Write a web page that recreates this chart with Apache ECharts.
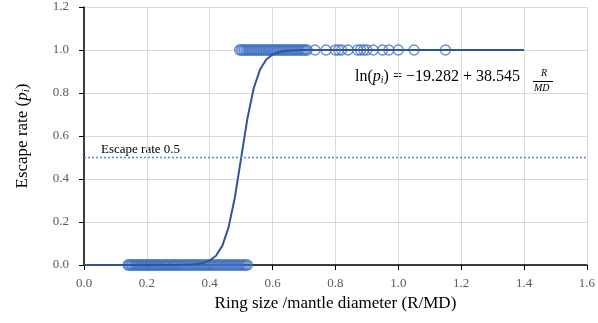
<!DOCTYPE html>
<html><head><meta charset="utf-8">
<script src="https://cdn.jsdelivr.net/npm/echarts@6/dist/echarts.min.js"></script>
<style>html,body{margin:0;padding:0;background:#fff}#c{width:598px;height:323px}</style>
</head><body><div id="c"></div>
<script>
// Fitted curve
var curveX = [0, 0.30, 0.34, 0.36, 0.38, 0.40, 0.42, 0.44, 0.46, 0.48, 0.50, 0.52, 0.54, 0.56, 0.58, 0.60, 0.62, 0.64, 0.66, 0.70, 1.40];
var curveY = [0, 0.0004, 0.002, 0.0045, 0.0096, 0.021, 0.043, 0.089, 0.175, 0.314, 0.498, 0.682, 0.822, 0.909, 0.956, 0.979, 0.990, 0.995, 0.998, 0.9995, 1.0];
// Observations that did not escape (p = 0)
var obs0X = [0.140, 0.143, 0.148, 0.152, 0.155, 0.160, 0.164, 0.168, 0.172, 0.175, 0.180, 0.184, 0.188, 0.192, 0.196, 0.200, 0.204, 0.208, 0.212, 0.215, 0.220, 0.224, 0.228, 0.232, 0.236, 0.240, 0.245, 0.250, 0.254, 0.258, 0.262, 0.266, 0.270, 0.275, 0.280, 0.284, 0.288, 0.292, 0.296, 0.300, 0.305, 0.310, 0.315, 0.320, 0.325, 0.330, 0.335, 0.340, 0.345, 0.350, 0.355, 0.360, 0.365, 0.370, 0.375, 0.380, 0.385, 0.390, 0.395, 0.400, 0.405, 0.410, 0.415, 0.420, 0.425, 0.430, 0.435, 0.440, 0.445, 0.450, 0.455, 0.460, 0.465, 0.470, 0.475, 0.480, 0.485, 0.490, 0.495, 0.500, 0.505, 0.510, 0.515, 0.520];
// Observations that escaped (p = 1)
var obs1X = [0.495, 0.500, 0.505, 0.510, 0.515, 0.520, 0.525, 0.530, 0.535, 0.540, 0.545, 0.550, 0.555, 0.560, 0.565, 0.570, 0.575, 0.580, 0.585, 0.590, 0.595, 0.600, 0.605, 0.610, 0.615, 0.620, 0.625, 0.630, 0.635, 0.640, 0.645, 0.650, 0.655, 0.660, 0.665, 0.670, 0.675, 0.680, 0.685, 0.690, 0.695, 0.700, 0.705, 0.710, 0.735, 0.77, 0.80, 0.81, 0.82, 0.84, 0.87, 0.88, 0.89, 0.90, 0.92, 0.95, 0.97, 1.00, 1.05, 1.15];
var refLevel = 0.5;

var serif = '"Liberation Serif","DejaVu Serif",serif';
var chart = echarts.init(document.getElementById('c'));
chart.setOption({
  animation: false,
  grid: {left: 84, right: 10, top: 7, bottom: 58},
  xAxis: {
    type: 'value', min: 0, max: 1.6, interval: 0.2,
    name: 'Ring size /mantle diameter (R/MD)', nameLocation: 'middle', nameGap: 30,
    nameTextStyle: {fontFamily: serif, fontSize: 17, color: '#000'},
    axisLine: {lineStyle: {color: '#000', width: 1.5}},
    axisTick: {show: true, inside: false, length: 5, lineStyle: {color: '#000'}},
    axisLabel: {fontFamily: serif, fontSize: 13, color: '#595959', margin: 12, formatter: function(v){return v.toFixed(1);}},
    splitLine: {show: true, lineStyle: {color: '#d9d9d9', width: 1}}
  },
  yAxis: {
    type: 'value', min: 0, max: 1.2, interval: 0.2,
    name: 'Escape rate ({i|p}{s|i})', nameLocation: 'middle', nameGap: 52,
    nameTextStyle: {fontFamily: serif, fontSize: 17, color: '#000',
      rich: {i: {fontFamily: serif, fontStyle: 'italic', fontSize: 17, color: '#000'},
             s: {fontFamily: serif, fontStyle: 'italic', fontSize: 11, color: '#000', padding: [7, 0, 0, 0]}}},
    axisLine: {show: true, lineStyle: {color: '#000', width: 1.5}},
    axisTick: {show: true, inside: false, length: 5, lineStyle: {color: '#000'}},
    axisLabel: {fontFamily: serif, fontSize: 13, color: '#595959', margin: 15, formatter: function(v){return v.toFixed(1);}},
    splitLine: {show: true, lineStyle: {color: '#d9d9d9', width: 1}}
  },
  series: [
    {
      type: 'scatter', symbol: 'circle', symbolSize: 10,
      itemStyle: {color: 'rgba(0,0,0,0)', borderColor: '#4472C4', borderWidth: 1.3},
      data: obs0X.map(function(x){return [x, 0];}), z: 3
    },
    {
      type: 'scatter', symbol: 'circle', symbolSize: 10,
      itemStyle: {color: 'rgba(0,0,0,0)', borderColor: '#4472C4', borderWidth: 1.3},
      data: obs1X.map(function(x){return [x, 1];}), z: 3
    },
    {
      type: 'line', showSymbol: false, smooth: false,
      lineStyle: {color: '#2F5597', width: 2},
      data: curveX.map(function(x, i){return [x, curveY[i]];}), z: 4,
      markLine: {
        silent: true, symbol: 'none',
        lineStyle: {color: '#5B84D0', type: [2, 2], width: 1.3},
        label: {show: false},
        data: [{yAxis: refLevel}]
      }
    }
  ],
  graphic: [
    {type: 'text', left: 101, top: 143, style: {text: 'Escape rate 0.5', font: '13px ' + serif, fill: '#000'}},
    {type: 'text', left: 355, top: 69, style: {
      text: 'ln({i|p}{s|i}) = −19.282 + 38.545',
      font: '16px ' + serif, fill: '#000',
      rich: {i: {fontFamily: serif, fontStyle: 'italic', fontSize: 16, fill: '#000'},
             s: {fontFamily: serif, fontStyle: 'italic', fontSize: 10, fill: '#000', padding: [7, 0, 0, 0]}}
    }},
    {type: 'text', left: 541, top: 68, style: {text: 'R', font: 'italic 10px ' + serif, fill: '#000'}},
    {type: 'line', shape: {x1: 533, y1: 81.5, x2: 553, y2: 81.5}, style: {stroke: '#000', lineWidth: 1}},
    {type: 'text', left: 534, top: 83, style: {text: 'MD', font: 'italic 10px ' + serif, fill: '#000'}}
  ]
});
</script></body></html>
